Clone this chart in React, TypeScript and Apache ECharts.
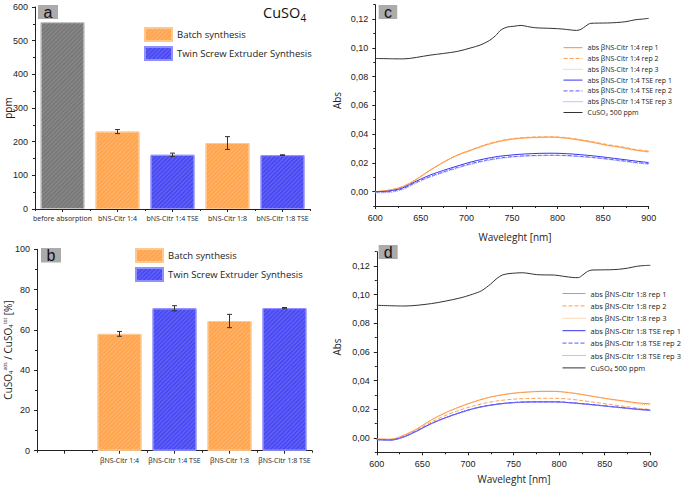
import React, { useEffect, useRef } from "react";
import * as echarts from "echarts";

// ---------- Panel a / b data ----------
const categoriesA = ["before absorption", "bNS-Citr 1:4", "bNS-Citr 1:4 TSE", "bNS-Citr 1:8", "bNS-Citr 1:8 TSE"];
const categoriesB = ["", "βNS-Citr 1:4", "βNS-Citr 1:4 TSE", "βNS-Citr 1:8", "βNS-Citr 1:8 TSE"];
const groupOf = ["ref", "batch", "tse", "batch", "tse"];
const ppmValues = [555, 230, 161, 196, 160];
const ppmErrors = [0, 6, 5, 19, 1];
const adsValues = [null, 58.0, 70.7, 64.4, 70.8];
const adsErrors = [0, 1.2, 1.3, 3.3, 0.3];
const legendBatch = "Batch synthesis";
const legendTse = "Twin Screw Extruder Synthesis";

// ---------- Panel c / d data ----------
const wavelength = [600, 615, 630, 645, 660, 675, 690, 705, 720, 735, 750, 765, 780, 795, 810, 825, 840, 855, 870, 885, 900];
const c14rep1 = [0.0, 0.001, 0.0035, 0.0085, 0.0148, 0.0205, 0.0253, 0.0288, 0.0322, 0.0348, 0.0365, 0.0374, 0.0378, 0.0379, 0.0372, 0.0358, 0.0341, 0.0322, 0.0308, 0.029, 0.0277];
const c14rep2 = [0.0, 0.001, 0.0035, 0.0086, 0.0149, 0.0206, 0.0255, 0.0291, 0.0325, 0.0351, 0.0368, 0.0377, 0.0381, 0.0381, 0.0375, 0.0362, 0.0345, 0.0327, 0.0312, 0.0294, 0.0282];
const c14rep3 = [-0.0002, 0.0008, 0.0033, 0.0083, 0.0146, 0.0203, 0.0251, 0.0286, 0.032, 0.0346, 0.0363, 0.0372, 0.0376, 0.0377, 0.037, 0.0356, 0.0339, 0.032, 0.0305, 0.0287, 0.0274];
const c14tse1 = [0.0, 0.0004, 0.0026, 0.0073, 0.0115, 0.0148, 0.0178, 0.0206, 0.0228, 0.0245, 0.0255, 0.0262, 0.0266, 0.0267, 0.0264, 0.0257, 0.0248, 0.0237, 0.0225, 0.0213, 0.0202];
const c14tse2 = [-0.0003, 0.0, 0.002, 0.0065, 0.0105, 0.0138, 0.0168, 0.0195, 0.0217, 0.0233, 0.0243, 0.0249, 0.0252, 0.0253, 0.0251, 0.0245, 0.0237, 0.0227, 0.0216, 0.0204, 0.0194];
const c14tse3 = [-0.0008, -0.0006, 0.0015, 0.006, 0.01, 0.0133, 0.0163, 0.019, 0.0212, 0.0229, 0.024, 0.0247, 0.025, 0.0251, 0.0249, 0.0243, 0.0235, 0.0224, 0.0212, 0.02, 0.019];

const d18rep1 = [-0.0007, -0.0009, 0.002, 0.0067, 0.0127, 0.0175, 0.0215, 0.0249, 0.0278, 0.0298, 0.0312, 0.032, 0.0325, 0.0325, 0.0317, 0.0303, 0.0287, 0.0272, 0.0259, 0.0246, 0.0238];
const d18rep2 = [-0.001, -0.0011, 0.0016, 0.006, 0.0112, 0.0156, 0.0192, 0.0222, 0.0245, 0.0261, 0.0271, 0.0275, 0.0277, 0.0277, 0.0272, 0.0261, 0.0248, 0.0235, 0.0222, 0.0209, 0.0198];
const d18rep3 = [-0.0008, -0.001, 0.0019, 0.0066, 0.0126, 0.0174, 0.0215, 0.025, 0.0279, 0.03, 0.0314, 0.0322, 0.0327, 0.0327, 0.0319, 0.0305, 0.0287, 0.027, 0.0255, 0.024, 0.023];
const d18tse1 = [-0.0012, -0.0015, 0.0008, 0.0052, 0.0101, 0.014, 0.0174, 0.0203, 0.0224, 0.0238, 0.0247, 0.0251, 0.0252, 0.0252, 0.0247, 0.0239, 0.023, 0.022, 0.0211, 0.0201, 0.0194];
const d18tse2 = [-0.0011, -0.0014, 0.0009, 0.0053, 0.0102, 0.0141, 0.0175, 0.0204, 0.0225, 0.0239, 0.0248, 0.0252, 0.0253, 0.0253, 0.0248, 0.024, 0.0231, 0.0221, 0.0211, 0.0201, 0.0193];
const d18tse3 = [-0.0013, -0.0016, 0.0007, 0.005, 0.0099, 0.0138, 0.0172, 0.0201, 0.0222, 0.0236, 0.0245, 0.0249, 0.025, 0.025, 0.0245, 0.0237, 0.0228, 0.0218, 0.0208, 0.0198, 0.019];

const blackWavelength = [600, 630, 660, 690, 705, 715, 725, 732, 738, 745, 752, 760, 767, 775, 785, 795, 805, 815, 821, 826, 831, 836, 845, 855, 865, 875, 885, 893, 900];
const cuso4C = [0.0926, 0.0923, 0.0949, 0.0975, 0.1, 0.1019, 0.105, 0.1085, 0.1125, 0.1145, 0.115, 0.1156, 0.1148, 0.114, 0.1137, 0.1135, 0.1131, 0.1124, 0.1121, 0.113, 0.1152, 0.117, 0.1172, 0.1173, 0.1176, 0.1182, 0.1195, 0.12, 0.1205];
const cuso4D = [0.0926, 0.0921, 0.0938, 0.0975, 0.1003, 0.1028, 0.1075, 0.1115, 0.1138, 0.1147, 0.1151, 0.1153, 0.1148, 0.114, 0.1138, 0.1137, 0.1128, 0.112, 0.1119, 0.1138, 0.1162, 0.1172, 0.1173, 0.1174, 0.1177, 0.1185, 0.1198, 0.1203, 0.1205];

const namesC = ["abs βNS-Citr 1:4 rep 1", "abs βNS-Citr 1:4 rep 2", "abs βNS-Citr 1:4 rep 3", "abs βNS-Citr 1:4 TSE rep 1", "abs βNS-Citr 1:4 TSE rep 2", "abs βNS-Citr 1:4 TSE rep 3"];
const namesD = ["abs βNS-Citr 1:8 rep 1", "abs βNS-Citr 1:8 rep 2", "abs βNS-Citr 1:8 rep 3", "abs βNS-Citr 1:8 TSE rep 1", "abs βNS-Citr 1:8 TSE rep 2", "abs βNS-Citr 1:8 TSE rep 3"];
const cuso4Name = "CuSO4 500 ppm";
const absTicks = [0, 0.02, 0.04, 0.06, 0.08, 0.1, 0.12];

const AXIS_COLOR = "#222";
const TEXT_COLOR = "#222";
const NUM_FONT = "Liberation Sans";
const TXT_FONT = "Open Sans";

const barColors: Record<string, any> = {
  ref: { color: "#858585", borderColor: "#c4c4c4", decal: "rgba(70,70,70,0.3)" },
  batch: { color: "#FFA54F", borderColor: "#ffc890", decal: "rgba(255,220,180,0.3)" },
  tse: { color: "#4A4AF3", borderColor: "#9090ff", decal: "rgba(170,170,255,0.3)" },
};

const lineStyles = [
  { color: "#FF8C2A", type: "solid" },
  { color: "#FF9F50", type: "dashed" },
  { color: "#FFAE6A", type: "dotted" },
  { color: "#3434F0", type: "solid" },
  { color: "#5A5AFF", type: "dashed" },
  { color: "#8585FF", type: "dotted" },
];

function makeDecal(color: string) {
  return {
    symbol: "rect",
    symbolSize: 1,
    dashArrayX: [1, 0],
    dashArrayY: [1, 1.5],
    rotation: -Math.PI / 4,
    color,
  };
}

function catXAxis(gridIndex: number, data: string[]) {
  return {
    type: "category",
    gridIndex,
    position: "bottom",
    data,
    boundaryGap: true,
    axisLine: { lineStyle: { color: AXIS_COLOR, width: 1 } },
    axisTick: { show: true, alignWithLabel: true, length: 3, inside: false, lineStyle: { color: AXIS_COLOR } },
    axisLabel: { interval: 0, fontSize: 7, fontFamily: TXT_FONT, color: TEXT_COLOR, margin: 6 },
    splitLine: { show: false },
  };
}

function catTickAxis(gridIndex: number, data: string[]) {
  return {
    type: "category",
    gridIndex,
    position: "bottom",
    data,
    boundaryGap: true,
    axisLine: { show: false },
    axisTick: { show: true, alignWithLabel: false, interval: 0, length: 2, lineStyle: { color: AXIS_COLOR } },
    axisLabel: { show: false },
    splitLine: { show: false },
  };
}

function valYAxis(gridIndex: number, max: number, interval: number) {
  return {
    type: "value",
    gridIndex,
    position: "left",
    min: 0,
    max,
    interval,
    axisLine: { show: true, lineStyle: { color: AXIS_COLOR, width: 1 } },
    axisTick: { show: true, length: 3, lineStyle: { color: AXIS_COLOR } },
    minorTick: { show: true, splitNumber: 2, length: 2, lineStyle: { color: AXIS_COLOR } },
    axisLabel: { fontSize: 9, fontFamily: NUM_FONT, color: TEXT_COLOR, margin: 7 },
    splitLine: { show: false },
    minorSplitLine: { show: false },
  };
}

function wlXAxis(gridIndex: number) {
  return {
    type: "value",
    gridIndex,
    position: "bottom",
    min: 600,
    max: 900,
    interval: 50,
    axisLine: { show: true, onZero: false, lineStyle: { color: AXIS_COLOR, width: 1 } },
    axisTick: { show: true, length: 3, lineStyle: { color: AXIS_COLOR } },
    minorTick: { show: true, splitNumber: 2, length: 2, lineStyle: { color: AXIS_COLOR } },
    axisLabel: { fontSize: 9, fontFamily: NUM_FONT, color: TEXT_COLOR, margin: 7 },
    splitLine: { show: false },
  };
}

function absYAxis(gridIndex: number) {
  return {
    type: "value",
    gridIndex,
    position: "left",
    min: -0.01,
    max: 0.13,
    axisLine: { show: true, onZero: false, lineStyle: { color: AXIS_COLOR, width: 1 } },
    axisTick: { show: true, length: 3, customValues: absTicks, lineStyle: { color: AXIS_COLOR } },
    axisLabel: {
      fontSize: 9,
      fontFamily: NUM_FONT,
      color: TEXT_COLOR,
      margin: 7,
      customValues: absTicks,
      formatter: (v: number) => v.toFixed(2).replace(".", ","),
    },
    splitLine: { show: false },
  };
}

function absMinorAxis(gridIndex: number) {
  return {
    type: "value",
    gridIndex,
    position: "left",
    min: -0.01,
    max: 0.13,
    interval: 0.01,
    axisLine: { show: false, onZero: false },
    axisTick: { show: true, length: 2, lineStyle: { color: AXIS_COLOR } },
    axisLabel: { show: false },
    splitLine: { show: false },
  };
}

function barSeries(values: (number | null)[], group: string, name: string | undefined, xAxisIndex: number, yAxisIndex: number) {
  const st = barColors[group];
  return {
    type: "bar",
    name,
    xAxisIndex,
    yAxisIndex,
    barWidth: 44,
    barGap: "-100%",
    data: values.map((v, i) => (groupOf[i] === group && v !== null ? v : "-")),
    itemStyle: { color: st.color, borderColor: st.borderColor, borderWidth: 1, decal: makeDecal(st.decal) },
    emphasis: { disabled: true },
    z: 2,
  };
}

function errorSeries(values: (number | null)[], errors: number[], xAxisIndex: number, yAxisIndex: number) {
  const data: number[][] = [];
  values.forEach((v, i) => {
    if (v !== null && errors[i] > 0) data.push([i, v, errors[i]]);
  });
  return {
    type: "custom",
    xAxisIndex,
    yAxisIndex,
    z: 5,
    data,
    renderItem: (params: any, api: any) => {
      const x = api.value(0);
      const y = api.value(1);
      const e = api.value(2);
      const top = api.coord([x, y + e]);
      const bot = api.coord([x, y - e]);
      const hw = 2.5;
      const style = { stroke: "#333", lineWidth: 1, fill: "none" };
      return {
        type: "group",
        children: [
          { type: "line", shape: { x1: top[0], y1: top[1], x2: bot[0], y2: bot[1] }, style },
          { type: "line", shape: { x1: top[0] - hw, y1: top[1], x2: top[0] + hw, y2: top[1] }, style },
          { type: "line", shape: { x1: bot[0] - hw, y1: bot[1], x2: bot[0] + hw, y2: bot[1] }, style },
        ],
      };
    },
  };
}

function lineSeries(name: string, ys: number[], xs: number[], idx: number, axisIndex: number, style: any) {
  return {
    type: "line",
    name,
    xAxisIndex: axisIndex,
    yAxisIndex: axisIndex,
    data: xs.map((x, i) => [x, ys[i]]),
    showSymbol: false,
    symbol: "none",
    smooth: 0.3,
    lineStyle: { color: style.color, type: style.type, width: 1 },
    itemStyle: { color: style.color },
    emphasis: { disabled: true },
    z: 3 + idx * 0.01,
  };
}

function lineLegend(names: string[], left: number, top: number, fontSize: number, itemW: number, itemH: number, gap: number) {
  return {
    orient: "vertical",
    left,
    top,
    itemWidth: itemW,
    itemHeight: itemH,
    itemGap: gap,
    padding: 0,
    data: [...names, cuso4Name],
    selectedMode: false,
    itemStyle: { opacity: 0 },
    lineStyle: { width: 1 },
    textStyle: {
      fontSize,
      lineHeight: itemH,
      fontFamily: TXT_FONT,
      color: TEXT_COLOR,
      rich: {
        n: { fontSize, fontFamily: TXT_FONT, color: TEXT_COLOR, lineHeight: itemH },
        s: { fontSize: fontSize * 0.6, fontFamily: TXT_FONT, color: TEXT_COLOR, verticalAlign: "bottom", lineHeight: 3 },
      },
    },
    formatter: (name: string) => (name === cuso4Name ? "{n|CuSO}{s|4}{n| 500 ppm}" : "{n|" + name + "}"),
  };
}

function barLegend(left: number, top: number) {
  return {
    orient: "vertical",
    left,
    top,
    icon: "rect",
    itemWidth: 27,
    itemHeight: 13,
    itemGap: 4,
    padding: 0,
    selectedMode: false,
    data: [legendBatch, legendTse],
    textStyle: { fontSize: 9.5, fontFamily: TXT_FONT, color: TEXT_COLOR, lineHeight: 13 },
  };
}

function panelLetter(letter: string, x: number, y: number, w: number, h: number) {
  return {
    type: "group",
    children: [
      { type: "rect", shape: { x, y, width: w, height: h }, style: { fill: "#ababab" } },
      {
        type: "text",
        x: x + w / 2,
        y: y + h / 2,
        style: { text: letter, fontSize: 16, fontFamily: NUM_FONT, fill: "#111", align: "center", verticalAlign: "middle" },
      },
    ],
  };
}

function rotatedText(text: string, x: number, y: number, fontSize: number, rich?: any) {
  return {
    type: "text",
    x,
    y,
    rotation: Math.PI / 2,
    style: {
      text,
      fontSize,
      fontFamily: TXT_FONT,
      fill: TEXT_COLOR,
      align: "center",
      verticalAlign: "middle",
      rich,
    },
  };
}

export default function App() {
  const ref = useRef<HTMLDivElement>(null);

  useEffect(() => {
    document.body.style.margin = "0";
    if (!ref.current) return;
    const chart = echarts.init(ref.current, null, { renderer: "svg" });

    const gridA = { left: 35, top: 7, width: 275, height: 202 };
    const gridB = { left: 37, top: 249.3, width: 275, height: 201.4 };
    const gridC = { left: 375.3, top: 4.7, width: 273.4, height: 201.3 };
    const gridD = { left: 376.8, top: 251.7, width: 273.5, height: 200.6 };

    const series: any[] = [
      barSeries(ppmValues, "ref", undefined, 0, 0),
      barSeries(ppmValues, "batch", legendBatch, 0, 0),
      barSeries(ppmValues, "tse", legendTse, 0, 0),
      errorSeries(ppmValues, ppmErrors, 0, 0),
      barSeries(adsValues, "batch", legendBatch, 1, 1),
      barSeries(adsValues, "tse", legendTse, 1, 1),
      errorSeries(adsValues, adsErrors, 1, 1),
    ];

    const cData = [c14rep1, c14rep2, c14rep3, c14tse1, c14tse2, c14tse3];
    const dData = [d18rep1, d18rep2, d18rep3, d18tse1, d18tse2, d18tse3];
    cData.forEach((ys, i) => series.push(lineSeries(namesC[i], ys, wavelength, i, 2, lineStyles[i])));
    series.push(lineSeries(cuso4Name, cuso4C, blackWavelength, 7, 2, { color: "#333", type: "solid" }));
    dData.forEach((ys, i) => series.push(lineSeries(namesD[i], ys, wavelength, i, 3, lineStyles[i])));
    series.push(lineSeries(cuso4Name, cuso4D, blackWavelength, 7, 3, { color: "#333", type: "solid" }));

    const subRich = {
      m: { fontSize: 10, fontFamily: TXT_FONT, fill: TEXT_COLOR, lineHeight: 12 },
      sub: { fontSize: 6, fontFamily: TXT_FONT, fill: TEXT_COLOR, verticalAlign: "bottom", lineHeight: 6 },
      sup: { fontSize: 5, fontFamily: TXT_FONT, fill: TEXT_COLOR, verticalAlign: "top", lineHeight: 4 },
    };

    chart.setOption({
      animation: false,
      backgroundColor: "#ffffff",
      grid: [gridA, gridB, gridC, gridD],
      xAxis: [
        catXAxis(0, categoriesA),
        catXAxis(1, categoriesB),
        wlXAxis(2),
        wlXAxis(3),
        catTickAxis(0, categoriesA),
        catTickAxis(1, categoriesB),
      ],
      yAxis: [
        valYAxis(0, 600, 100),
        valYAxis(1, 100, 20),
        absYAxis(2),
        absYAxis(3),
        absMinorAxis(2),
        absMinorAxis(3),
      ],
      legend: [
        barLegend(144, 27),
        barLegend(135, 248),
        lineLegend(namesC, 563, 43.7, 7, 19, 8, 2.8),
        lineLegend(namesD, 562, 289, 7.5, 23, 9, 3.4),
      ],
      series,
      graphic: [
        panelLetter("a", 38, 5, 20, 14),
        panelLetter("b", 41, 248, 20, 14.5),
        panelLetter("c", 378.7, 5, 18.5, 14),
        panelLetter("d", 378.7, 245, 19, 14),
        {
          type: "text",
          x: 263,
          y: 12,
          style: { text: "CuSO", fontSize: 14.5, fontFamily: TXT_FONT, fill: "#111", align: "left", verticalAlign: "middle" },
        },
        {
          type: "text",
          x: 300.5,
          y: 17.5,
          style: { text: "4", fontSize: 10, fontFamily: TXT_FONT, fill: "#111", align: "left", verticalAlign: "middle" },
        },
        rotatedText("ppm", 8, 108, 10),
        rotatedText("{m|CuSO}{sub|4}{sup|ads}{m| / CuSO}{sub|4}{sup|tot}{m| [%]}", 8, 350, 10, subRich),
        rotatedText("Abs", 337, 100.5, 10),
        rotatedText("Abs", 337, 347, 10),
        {
          type: "text",
          x: 515,
          y: 237,
          style: { text: "Waveleght [nm]", fontSize: 10, fontFamily: TXT_FONT, fill: TEXT_COLOR, align: "center", verticalAlign: "middle" },
        },
        {
          type: "text",
          x: 514,
          y: 479,
          style: { text: "Waveleght [nm]", fontSize: 10, fontFamily: TXT_FONT, fill: TEXT_COLOR, align: "center", verticalAlign: "middle" },
        },
      ],
    });

    return () => chart.dispose();
  }, []);

  return <div ref={ref} style={{ width: 684, height: 487 }} />;
}
